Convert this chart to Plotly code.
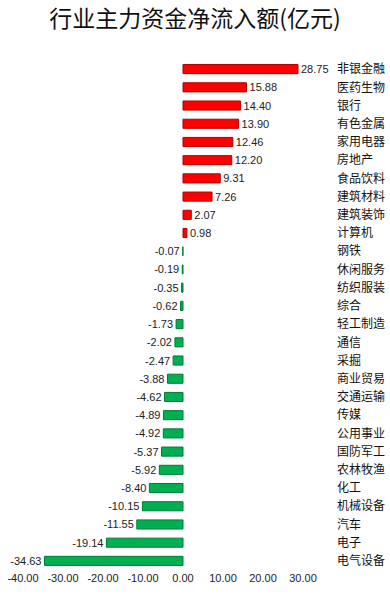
import plotly.graph_objects as go

categories = ["非银金融", "医药生物", "银行", "有色金属", "家用电器", "房地产", "食品饮料", "建筑材料",
              "建筑装饰", "计算机", "钢铁", "休闲服务", "纺织服装", "综合", "轻工制造", "通信", "采掘",
              "商业贸易", "交通运输", "传媒", "公用事业", "国防军工", "农林牧渔", "化工", "机械设备",
              "汽车", "电子", "电气设备"]
values = [28.75, 15.88, 14.40, 13.90, 12.46, 12.20, 9.31, 7.26, 2.07, 0.98, -0.07, -0.19, -0.35,
          -0.62, -1.73, -2.02, -2.47, -3.88, -4.62, -4.89, -4.92, -5.37, -5.92, -8.40, -10.15,
          -11.55, -19.14, -34.63]
x_ticks = [-40, -30, -20, -10, 0, 10, 20, 30]

colors = ["#FF0000" if v > 0 else "#00B050" for v in values]
edge = ["#B00000" if v > 0 else "#007A38" for v in values]

fig = go.Figure(go.Bar(
    y=categories, x=values, orientation="h",
    marker=dict(color=colors, line=dict(color=edge, width=1)),
    width=0.5,
    text=[f"{v:.2f}" for v in values], textposition="outside",
    constraintext="none",
    textfont=dict(family="Liberation Sans, Arial", size=11, color="#222222"),
    cliponaxis=False,
))

fig.update_layout(
    width=390, height=602,
    margin=dict(l=23, r=57, t=60, b=32, autoexpand=False),
    paper_bgcolor="white", plot_bgcolor="white",
    title=dict(text="行业主力资金净流入额(亿元)", x=0.5, xanchor="center", y=0.968, yanchor="middle",
               font=dict(family="Noto Sans CJK SC", size=23, color="#111111")),
    showlegend=False,
    xaxis=dict(range=[-40, 37.5], tickvals=x_ticks, ticktext=[f"{t:.2f}" for t in x_ticks],
               showgrid=False, zeroline=False, showline=False, automargin=False,
               tickfont=dict(family="Liberation Sans, Arial", size=11, color="#222222")),
    yaxis=dict(autorange="reversed", side="right", showgrid=False, showline=False,
               ticks="", ticklabelstandoff=3, automargin=False,
               tickfont=dict(family="Noto Sans CJK SC", size=12, color="#111111")),
)

fig.write_html("out.html", config={"displayModeBar": False},
               post_script="document.body.style.margin='0';document.body.style.overflow='hidden';")
